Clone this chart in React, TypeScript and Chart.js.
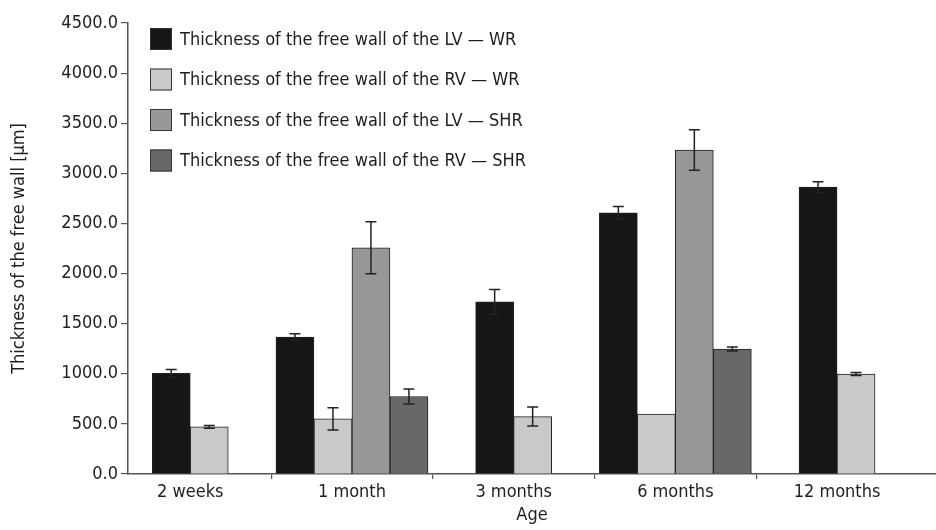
import React, { useEffect, useRef } from "react";
import { Chart, registerables } from "chart.js";

Chart.register(...registerables);

const CATEGORIES = ["2 weeks", "1 month", "3 months", "6 months", "12 months"];
const SERIES_LABELS = [
  "Thickness of the free wall of the LV \u2014 WR",
  "Thickness of the free wall of the RV \u2014 WR",
  "Thickness of the free wall of the LV \u2014 SHR",
  "Thickness of the free wall of the RV \u2014 SHR",
];
const LV_WR = [1005, 1367, 1717, 2607, 2863];
const LV_WR_ERR = [38, 33, 123, 63, 54];
const RV_WR = [470, 550, 573, 597, 997];
const RV_WR_ERR = [13, 112, 95, 0, 15];
const LV_SHR = [null, 2257, null, 3233, null];
const LV_SHR_ERR = [0, 260, 0, 202, 0];
const RV_SHR = [null, 773, null, 1247, null];
const RV_SHR_ERR = [0, 75, 0, 20, 0];
const Y_TICK_VALUES = [0, 500, 1000, 1500, 2000, 2500, 3000, 3500, 4000, 4500];

const COLORS = ["#161616", "#c9c9c9", "#979797", "#686868"];
const FONT = "'Liberation Sans Narrow', 'DejaVu Sans Condensed', 'Liberation Sans', sans-serif";
const FONT_SIZE = 18;
const TEXT = "#1e1e1e";
const AXIS = "#555555";

const errorBarPlugin = {
  id: "errorBars",
  afterDatasetsDraw(chart: any) {
    const ctx = chart.ctx;
    const yScale = chart.scales.y;
    ctx.save();
    ctx.strokeStyle = "#222222";
    ctx.lineWidth = 1.5;
    chart.data.datasets.forEach((ds: any, d: number) => {
      const meta = chart.getDatasetMeta(d);
      const errs = ds.errors || [];
      meta.data.forEach((el: any, i: number) => {
        const raw = ds.data[i];
        const v = raw ? raw.y : null;
        const e = errs[i];
        if (v == null || !e) return;
        const x = el.x;
        const yt = yScale.getPixelForValue(v + e);
        const yb = yScale.getPixelForValue(v - e);
        const cap = 5.5;
        ctx.beginPath();
        ctx.moveTo(x, yt);
        ctx.lineTo(x, yb);
        ctx.moveTo(x - cap, yt);
        ctx.lineTo(x + cap, yt);
        ctx.moveTo(x - cap, yb);
        ctx.lineTo(x + cap, yb);
        ctx.stroke();
      });
    });
    ctx.restore();
  },
};

const legendPlugin = {
  id: "insideLegend",
  afterDraw(chart: any) {
    const ctx = chart.ctx;
    const area = chart.chartArea;
    const x0 = area.left + 22;
    const y0 = area.top + 16;
    const step = 40.5;
    const box = 22;
    ctx.save();
    ctx.font = `${FONT_SIZE}px ${FONT}`;
    ctx.textBaseline = "middle";
    ctx.textAlign = "left";
    chart.data.datasets.forEach((ds: any, i: number) => {
      const cy = y0 + i * step;
      ctx.fillStyle = ds.backgroundColor;
      ctx.fillRect(x0, cy - box / 2, box, box);
      ctx.strokeStyle = "#333333";
      ctx.lineWidth = 1;
      ctx.strokeRect(x0 + 0.5, cy - box / 2 + 0.5, box - 1, box - 1);
      ctx.fillStyle = TEXT;
      ctx.fillText(ds.label, x0 + box + 8, cy + 1);
    });
    ctx.restore();
  },
};

function toPoints(values: (number | null)[]) {
  return values.map((v, i) => ({ x: i, y: v }));
}

export default function App() {
  const ref = useRef<HTMLCanvasElement | null>(null);

  useEffect(() => {
    document.body.style.margin = "0";
    const canvas = ref.current;
    if (!canvas) return;
    Chart.defaults.font.family = FONT;
    const series = [
      { data: LV_WR, err: LV_WR_ERR },
      { data: RV_WR, err: RV_WR_ERR },
      { data: LV_SHR, err: LV_SHR_ERR },
      { data: RV_SHR, err: RV_SHR_ERR },
    ];
    const chart = new Chart(canvas, {
      type: "bar",
      data: {
        datasets: series.map((s, i) => ({
          label: SERIES_LABELS[i],
          data: toPoints(s.data as (number | null)[]),
          errors: s.err,
          backgroundColor: COLORS[i],
          borderColor: "#222222",
          borderWidth: 1,
          barThickness: 38,
          skipNull: true,
        })) as any,
      },
      options: {
        animation: false,
        responsive: true,
        maintainAspectRatio: false,
        layout: { padding: { top: 23, right: 0, bottom: 0, left: 0 } },
        plugins: {
          legend: { display: false },
          tooltip: { enabled: false },
        },
        scales: {
          x: {
            type: "linear",
            offset: false,
            min: -0.385,
            max: 4.612,
            afterBuildTicks: (axis: any) => {
              const t: { value: number }[] = [];
              CATEGORIES.forEach((_, i) => {
                t.push({ value: i });
                if (i < CATEGORIES.length - 1) t.push({ value: i + 0.5 });
              });
              axis.ticks = t;
            },
            afterFit: (s: any) => {
              s.height = 56;
            },
            ticks: {
              autoSkip: false,
              maxRotation: 0,
              minRotation: 0,
              padding: 3,
              color: TEXT,
              font: { size: FONT_SIZE, family: FONT },
              callback: (v: any) => (Number.isInteger(v) ? CATEGORIES[v] : ""),
            },
            grid: {
              display: true,
              offset: false,
              drawOnChartArea: false,
              drawTicks: true,
              tickLength: 5,
              lineWidth: 1.2,
              color: (c: any) =>
                c.tick && Number.isInteger(c.tick.value) ? "rgba(0,0,0,0)" : AXIS,
            },
            border: { display: true, color: AXIS, width: 1.5 },
            title: {
              display: true,
              text: "Age",
              color: TEXT,
              font: { size: FONT_SIZE, family: FONT },
              padding: { top: 0, bottom: 4 },
            },
          },
          y: {
            min: 0,
            max: 4500,
            afterBuildTicks: (axis: any) => {
              axis.ticks = Y_TICK_VALUES.map((v) => ({ value: v }));
            },
            afterFit: (s: any) => {
              s.width = 128;
            },
            ticks: {
              padding: 3,
              color: TEXT,
              font: { size: FONT_SIZE, family: FONT },
              callback: (v: any) => Number(v).toFixed(1),
            },
            grid: {
              display: true,
              drawOnChartArea: false,
              drawTicks: true,
              tickLength: 7,
              lineWidth: 1.2,
              color: AXIS,
            },
            border: { display: true, color: AXIS, width: 1.5 },
            title: {
              display: true,
              text: "Thickness of the free wall [\u00b5m]",
              color: TEXT,
              font: { size: FONT_SIZE, family: FONT },
              padding: { top: 9, bottom: 0 },
            },
          },
        },
      } as any,
      plugins: [errorBarPlugin, legendPlugin],
    });
    return () => chart.destroy();
  }, []);

  return (
    <div style={{ position: "absolute", left: 0, top: 0, width: 936, height: 530 }}>
      <canvas ref={ref} />
    </div>
  );
}
